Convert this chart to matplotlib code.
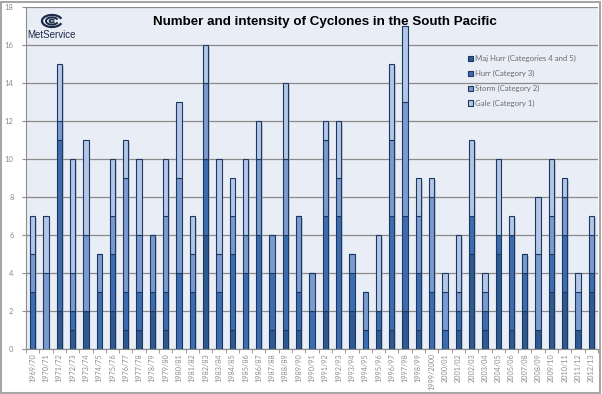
import matplotlib
matplotlib.use('Agg')
import matplotlib.pyplot as plt
from matplotlib.patches import Arc
import numpy as np

# 季节标签（原图中 2006/07 被标成了 2007/08）
seasons = ['1969/70', '1970/71', '1971/72', '1972/73', '1973/74', '1974/75', '1975/76',
           '1976/77', '1977/78', '1978/79', '1979/80', '1980/81', '1981/82', '1982/83',
           '1983/84', '1984/85', '1985/86', '1986/87', '1987/88', '1988/89', '1989/90',
           '1990/91', '1991/92', '1992/93', '1993/94', '1994/95', '1995/96', '1996/97',
           '1997/98', '1998/99', '1999/2000', '2000/01', '2001/02', '2002/03', '2003/04',
           '2004/05', '2005/06', '2007/08', '2008/09', '2009/10', '2010/11', '2011/12',
           '2012/13']

maj_hurr = [0, 0, 2, 1, 2, 0, 2, 1, 1, 2, 1, 0, 0, 6, 0, 1, 0, 0, 1, 1, 1,
            0, 2, 0, 2, 0, 1, 1, 2, 1, 0, 0, 1, 5, 1, 5, 1, 2, 1, 3, 3, 1, 3]
hurr = [3, 0, 9, 1, 0, 3, 3, 2, 2, 1, 2, 4, 3, 4, 3, 4, 4, 6, 3, 5, 2,
        2, 5, 7, 2, 1, 1, 6, 5, 3, 3, 1, 1, 2, 1, 1, 5, 2, 0, 2, 3, 0, 1]
storm = [2, 4, 1, 2, 4, 2, 2, 6, 3, 3, 4, 5, 2, 4, 2, 2, 2, 4, 2, 4, 4,
         2, 4, 2, 1, 2, 0, 4, 6, 3, 5, 2, 1, 0, 1, 0, 0, 1, 4, 2, 2, 2, 2]
gale = [2, 3, 3, 6, 5, 0, 3, 2, 4, 0, 3, 4, 2, 2, 5, 2, 4, 2, 0, 4, 0,
        0, 1, 3, 0, 0, 4, 4, 4, 2, 1, 1, 3, 4, 1, 4, 1, 0, 3, 3, 1, 1, 1]

series = [('Maj Hurr (Categories 4 and 5)', maj_hurr, '#2f5a8f'),
          ('Hurr (Category 3)', hurr, '#3d6db0'),
          ('Storm (Category 2)', storm, '#7b9bd0'),
          ('Gale (Category 1)', gale, '#b3c6e6')]

plt.rcParams['font.family'] = ['Lato', 'DejaVu Sans']

fig = plt.figure(figsize=(6.02, 3.94), dpi=100)
ax = fig.add_axes([26 / 602, 1 - 349 / 394, 572 / 602, 342 / 394])
ax.set_facecolor('#e9edf5')

x = np.arange(len(seasons))
total = np.sum([s[1] for s in series], axis=0)

# 柱子阴影
ax.bar(x + 0.12, total, width=0.4, bottom=-0.08, color='#9aa3b2', alpha=0.45,
       linewidth=0, zorder=2)

bottom = np.zeros(len(seasons))
for name, vals, col in series:
    ax.bar(x, vals, width=0.4, bottom=bottom, color=col, edgecolor='#1c3762',
           linewidth=0.8, label=name, zorder=3)
    bottom += np.array(vals)

ax.set_xlim(-0.5, len(seasons) - 0.5)
ax.set_ylim(0, 18)
ax.set_yticks(range(0, 19, 2))
ax.yaxis.grid(True, color='#8a8a8a', linewidth=0.9)
ax.set_axisbelow(True)

ax.set_xticks(x)
ax.set_xticklabels(seasons, rotation=90, fontsize=5.2, color='#8c8c8c')
ax.set_xticks(np.arange(-0.5, len(seasons), 1), minor=True)
ax.tick_params(axis='x', which='major', length=0, pad=3)
ax.tick_params(axis='x', which='minor', length=3, color='#8c8c8c')
ax.tick_params(axis='y', labelsize=5.5, labelcolor='#8c8c8c', length=3, color='#8c8c8c', pad=6)

for side in ['top', 'right']:
    ax.spines[side].set_visible(False)
for side in ['left', 'bottom']:
    ax.spines[side].set_color('#8c8c8c')

# 标题
fig.text(325 / 602, 0.945, 'Number and intensity of Cyclones in the South Pacific',
         ha='center', va='center', fontsize=9.6, fontweight='bold',
         family='Liberation Sans', color='black')

# MetService 标志
fig.text(52 / 602, 1 - 35 / 394, 'MetService', ha='center', va='center',
         fontsize=7, color='#1b2a47', family='Liberation Sans')
for w, lw in [(20, 1.6), (12, 1.4), (5, 1.2)]:
    a = Arc((52 / 602, 1 - 21 / 394), w / 602, w * 0.6 / 394, theta1=20, theta2=340,
            transform=fig.transFigure, color='#1b2a47', linewidth=lw)
    fig.add_artist(a)

leg = ax.legend(loc='upper left', bbox_to_anchor=(0.76, 0.88), frameon=False,
                fontsize=5.6, handlelength=0.7, handleheight=0.7,
                labelspacing=1.0, handletextpad=0.3)
for t in leg.get_texts():
    t.set_color('#6a6a6a')

# 外框
fig.add_artist(plt.Rectangle((0.002, 0.003), 0.995, 0.993, transform=fig.transFigure,
                             fill=False, edgecolor='#a6a6a6', linewidth=1.5))

fig.savefig('out.png', dpi=100)
